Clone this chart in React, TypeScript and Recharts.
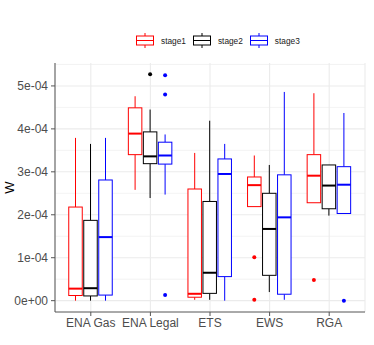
import React from "react";
import { BarChart, Bar, XAxis, YAxis, CartesianGrid, Legend, Label } from "recharts";

// categories
const categories = ["ENA Gas", "ENA Legal", "ETS", "EWS", "RGA"];
const stageNames = ["stage1", "stage2", "stage3"];
const stageColors = ["#FF0000", "#000000", "#0000FF"];

// box stats per category: [whiskerLow, q1, median, q3, whiskerHigh]
const stage1Stats = [
  [0.0, 0.12e-4, 0.28e-4, 2.18e-4, 3.79e-4],
  [2.58e-4, 3.4e-4, 3.89e-4, 4.49e-4, 4.76e-4],
  [0.02e-4, 0.08e-4, 0.16e-4, 2.6e-4, 3.44e-4],
  [2.19e-4, 2.19e-4, 2.69e-4, 2.88e-4, 3.38e-4],
  [2.28e-4, 2.28e-4, 2.91e-4, 3.4e-4, 4.83e-4],
];
const stage1Outliers = [[], [], [], [1.01e-4, 0.02e-4], [0.48e-4]];

const stage2Stats = [
  [0.0, 0.11e-4, 0.29e-4, 1.87e-4, 3.65e-4],
  [2.39e-4, 3.19e-4, 3.36e-4, 3.93e-4, 4.45e-4],
  [0.02e-4, 0.17e-4, 0.65e-4, 2.31e-4, 4.19e-4],
  [0.2e-4, 0.59e-4, 1.67e-4, 2.5e-4, 3.16e-4],
  [1.98e-4, 2.14e-4, 2.68e-4, 3.16e-4, 3.16e-4],
];
const stage2Outliers = [[], [5.27e-4], [], [], []];

const stage3Stats = [
  [0.0, 0.13e-4, 1.48e-4, 2.81e-4, 3.79e-4],
  [2.47e-4, 3.18e-4, 3.38e-4, 3.69e-4, 3.87e-4],
  [0.0, 0.56e-4, 2.95e-4, 3.3e-4, 3.65e-4],
  [0.02e-4, 0.15e-4, 1.94e-4, 2.93e-4, 4.86e-4],
  [2.03e-4, 2.03e-4, 2.7e-4, 3.12e-4, 4.37e-4],
];
const stage3Outliers = [[], [5.25e-4, 4.8e-4, 0.13e-4], [], [], [0.0]];

// axis ticks
const yTicks = [0, 1e-4, 2e-4, 3e-4, 4e-4, 5e-4];
const yTickLabels = ["0e+00", "1e-04", "2e-04", "3e-04", "4e-04", "5e-04"];
const yMinorTicks = [0.5e-4, 1.5e-4, 2.5e-4, 3.5e-4, 4.5e-4, 5.5e-4];
const yDomain = [-0.264e-4, 5.534e-4];

const allStats = [stage1Stats, stage2Stats, stage3Stats];
const allOutliers = [stage1Outliers, stage2Outliers, stage3Outliers];

const table = categories.map((category, i) => {
  const row: any = { category };
  allStats.forEach((stats, s) => {
    const [lo, q1, med, q3, hi] = stats[i];
    row["s" + s] = { lo, q1, med, q3, hi, out: allOutliers[s][i] };
  });
  return row;
});

const BoxShape = (props: any) => {
  const { x, y, width, height, payload, stage } = props;
  const st = payload["s" + stage];
  const color = stageColors[stage];
  const top = Math.min(y, y + height);
  const bottom = Math.max(y, y + height);
  const span = st.hi - st.lo;
  const pix = (v: number) => bottom - ((v - st.lo) / span) * (bottom - top);
  const cx = x + width / 2;
  const bw = width * 0.9;
  const bx = cx - bw / 2;
  const yq1 = pix(st.q1);
  const yq3 = pix(st.q3);
  const ym = pix(st.med);
  return (
    <g>
      <line x1={cx} x2={cx} y1={pix(st.hi)} y2={yq3} stroke={color} strokeWidth={1} />
      <line x1={cx} x2={cx} y1={yq1} y2={pix(st.lo)} stroke={color} strokeWidth={1} />
      <rect x={bx} y={yq3} width={bw} height={Math.max(yq1 - yq3, 0)} fill="#FFFFFF" stroke={color} strokeWidth={1} />
      <line x1={bx} x2={bx + bw} y1={ym} y2={ym} stroke={color} strokeWidth={2} />
      {st.out.map((o: number, k: number) => (
        <circle key={k} cx={cx} cy={pix(o)} r={2} fill={color} />
      ))}
    </g>
  );
};

const LegendContent = () => (
  <div style={{ display: "flex", alignItems: "center", height: 17, paddingLeft: 136, fontFamily: "'Liberation Sans', Arial, sans-serif", fontSize: 8.3, color: "#1a1a1a" }}>
    {stageNames.map((n, s) => (
      <div key={n} style={{ display: "flex", alignItems: "center", marginRight: 7 }}>
        <svg width={18} height={17} style={{ display: "block" }}>
          <line x1={9} x2={9} y1={1} y2={4} stroke={stageColors[s]} strokeWidth={1} />
          <line x1={9} x2={9} y1={13} y2={16} stroke={stageColors[s]} strokeWidth={1} />
          <rect x={0.5} y={4} width={17} height={9} fill="#fff" stroke={stageColors[s]} strokeWidth={1} />
          <line x1={0.5} x2={17.5} y1={8.5} y2={8.5} stroke={stageColors[s]} strokeWidth={1} />
        </svg>
        <span style={{ marginLeft: 7 }}>{n}</span>
      </div>
    ))}
  </div>
);

const YTitle = (props: any) => {
  const vb = props.viewBox;
  const cy = vb.y + vb.height / 2;
  return (
    <text x={9} y={cy} transform={`rotate(-90, 9, ${cy})`} textAnchor="middle" dominantBaseline="central" fontSize={13} fill="#000" fontFamily="'Liberation Sans', Arial, sans-serif">
      W
    </text>
  );
};

export default function App() {
  const font = "'Liberation Sans', Arial, sans-serif";
  return (
    <div style={{ position: "absolute", left: 0, top: 0, background: "#fff" }}>
      <BarChart
        width={374}
        height={345}
        data={table}
        margin={{ top: 46, right: 9, bottom: 9, left: 0 }}
        barGap={0}
        barSize={15}
        style={{ fontFamily: font }}
      >
        <CartesianGrid horizontalValues={yMinorTicks} vertical={false} stroke="#EBEBEB" strokeWidth={0.6} />
        <CartesianGrid horizontalValues={yTicks} stroke="#EBEBEB" strokeWidth={1.1} />
        <XAxis
          dataKey="category"
          padding={{ left: 6, right: 6 }}
          tickSize={4}
          tickMargin={2}
          height={24}
          stroke="#555"
          interval={0}
          tick={{ fill: "#4D4D4D", fontSize: 12 }}
        />
        <XAxis xAxisId="top" orientation="top" dataKey="category" padding={{ left: 6, right: 6 }} tick={false} tickLine={false} height={0} stroke="#555" />
        <YAxis
          domain={yDomain}
          ticks={yTicks}
          allowDataOverflow
          tickFormatter={(v: number) => yTickLabels[yTicks.indexOf(v)] ?? ""}
          width={55}
          tickSize={4}
          tickMargin={3}
          stroke="#555"
          tick={{ fill: "#4D4D4D", fontSize: 12 }}
        >
          <Label content={<YTitle />} />
        </YAxis>
        <YAxis yAxisId="right" orientation="right" domain={yDomain} allowDataOverflow width={0} tick={false} tickLine={false} stroke="#555" />
        <Legend verticalAlign="top" content={<LegendContent />} wrapperStyle={{ top: 32, left: 0, width: 374, height: 17 }} />
        {stageNames.map((n, s) => (
          <Bar
            key={n}
            name={n}
            dataKey={(row: any) => [row["s" + s].lo, row["s" + s].hi]}
            fill={stageColors[s]}
            isAnimationActive={false}
            shape={(p: any) => <BoxShape {...p} stage={s} />}
          />
        ))}
      </BarChart>
    </div>
  );
}
